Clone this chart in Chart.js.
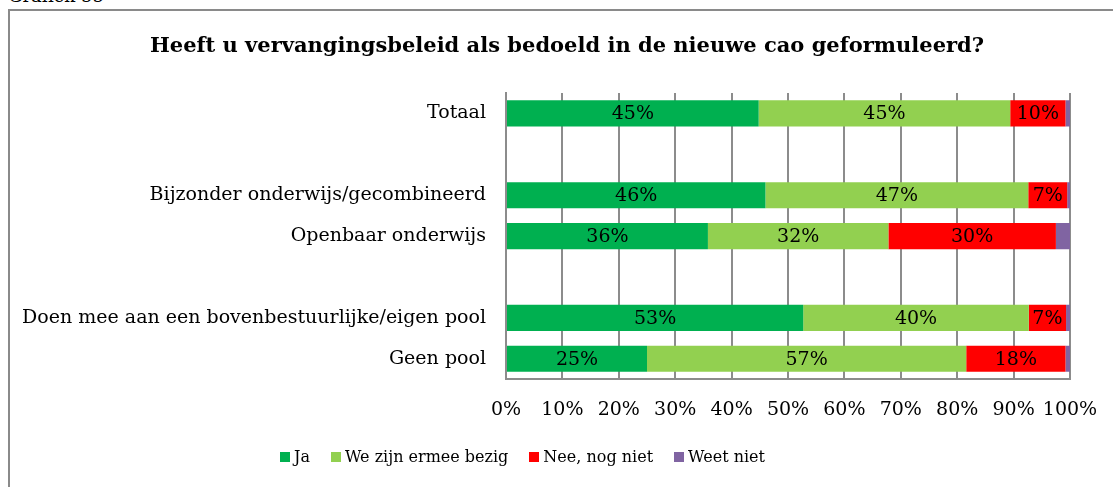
<!DOCTYPE html>
<html>
<head>
<meta charset="utf-8">
<script src="https://cdn.jsdelivr.net/npm/chart.js@4/dist/chart.umd.min.js"></script>
<style>
  html, body { margin: 0; padding: 0; background: #fff; }
  body { width: 1113px; height: 487px; position: relative; overflow: hidden; font-family: "DejaVu Serif", serif; }
  #frame { position: absolute; left: 8px; top: 9px; width: 1140px; height: 520px;
           border-left: 2px solid #8a8a8a; border-top: 2px solid #8a8a8a; box-sizing: border-box; }
  #cap { position: absolute; left: 8px; top: -15px; font-size: 18px; line-height: 21px; color: #000; }
  #title { position: absolute; left: 0; width: 1134px; top: 32px; text-align: center;
           font-size: 21px; line-height: 26px; font-weight: bold; color: #000; white-space: nowrap; }
  #wrap { position: absolute; left: 0; top: 0; width: 1113px; height: 487px; }
  #legend { position: absolute; left: 280px; top: 445px; display: flex; align-items: center;
            font-size: 16px; line-height: 24px; color: #000; white-space: nowrap; }
  #legend .it { display: flex; align-items: center; margin-right: 21px; }
  #legend .bx { width: 10px; height: 10px; margin-right: 4px; }
</style>
</head>
<body>
<div id="cap">Grafiek 55</div>
<div id="frame"></div>
<div id="wrap"><canvas id="c" width="1113" height="487"></canvas></div>
<div id="title"></div>
<div id="legend"></div>
<script>
const categories = ['Totaal', '', 'Bijzonder onderwijs/gecombineerd', 'Openbaar onderwijs', '', 'Doen mee aan een bovenbestuurlijke/eigen pool', 'Geen pool'];
const seriesNames = ['Ja', 'We zijn ermee bezig', 'Nee, nog niet', 'Weet niet'];
const ja      = [44.8, null, 46.0, 35.8, null, 52.7, 25.0];
const bezig   = [44.6, null, 46.6, 32.0, null, 40.0, 56.6];
const neeNog  = [9.8,  null, 6.9,  29.7, null, 6.6,  17.6];
const weetNiet= [0.8,  null, 0.5,  2.5,  null, 0.7,  0.8];
const xTicks = ['0%', '10%', '20%', '30%', '40%', '50%', '60%', '70%', '80%', '90%', '100%'];
const colors = ['#00B050', '#92D050', '#FF0000', '#8064A2'];
const title = 'Heeft u vervangingsbeleid als bedoeld in de nieuwe cao geformuleerd?';

const FONT = '"DejaVu Serif", serif';

document.getElementById('title').textContent = title;
const lg = document.getElementById('legend');
seriesNames.forEach((n, i) => {
  const it = document.createElement('div'); it.className = 'it';
  const bx = document.createElement('div'); bx.className = 'bx'; bx.style.background = colors[i];
  const tx = document.createElement('span'); tx.textContent = n;
  it.appendChild(bx); it.appendChild(tx); lg.appendChild(it);
});

const valueLabels = {
  id: 'valueLabels',
  afterDatasetsDraw(chart) {
    const ctx = chart.ctx;
    ctx.save();
    ctx.font = '19px ' + FONT;
    ctx.fillStyle = '#000';
    ctx.textAlign = 'center';
    ctx.textBaseline = 'middle';
    chart.data.datasets.forEach((ds, i) => {
      const meta = chart.getDatasetMeta(i);
      meta.data.forEach((el, j) => {
        const v = ds.data[j];
        if (v == null || v < 5) return;
        const p = el.getCenterPoint();
        ctx.fillText(Math.round(v) + '%', p.x, p.y + 1);
      });
    });
    ctx.restore();
  }
};

const mk = (label, data, color) => ({
  label, data, backgroundColor: color, borderWidth: 0,
  barPercentage: 0.64, categoryPercentage: 1.0
});

new Chart(document.getElementById('c'), {
  type: 'bar',
  data: {
    labels: categories,
    datasets: [
      mk(seriesNames[0], ja, colors[0]),
      mk(seriesNames[1], bezig, colors[1]),
      mk(seriesNames[2], neeNog, colors[2]),
      mk(seriesNames[3], weetNiet, colors[3])
    ]
  },
  options: {
    indexAxis: 'y',
    responsive: false,
    animation: false,
    devicePixelRatio: 1,
    layout: { padding: { left: 0, right: 0, top: 93, bottom: 47 } },
    scales: {
      x: {
        stacked: true, min: 0, max: 100,
        ticks: { stepSize: 10, callback: (v, i) => xTicks[i], color: '#000',
                 font: { family: FONT, size: 19 }, padding: 19,
                 maxRotation: 0, minRotation: 0, autoSkip: false },
        grid: { color: '#8c8c8c', lineWidth: 2, drawTicks: false },
        border: { color: '#8c8c8c', width: 2 },
        afterFit(scale) { scale.paddingRight = 43; }
      },
      y: {
        stacked: true,
        ticks: { color: '#000', font: { family: FONT, size: 19 }, padding: 20 },
        grid: { display: false, drawTicks: false },
        border: { color: '#8c8c8c', width: 2 },
        afterFit(scale) { scale.width = 506; }
      }
    },
    plugins: {
      title: { display: false },
      legend: { display: false },
      tooltip: { enabled: false }
    }
  },
  plugins: [valueLabels]
});
</script>
</body>
</html>
